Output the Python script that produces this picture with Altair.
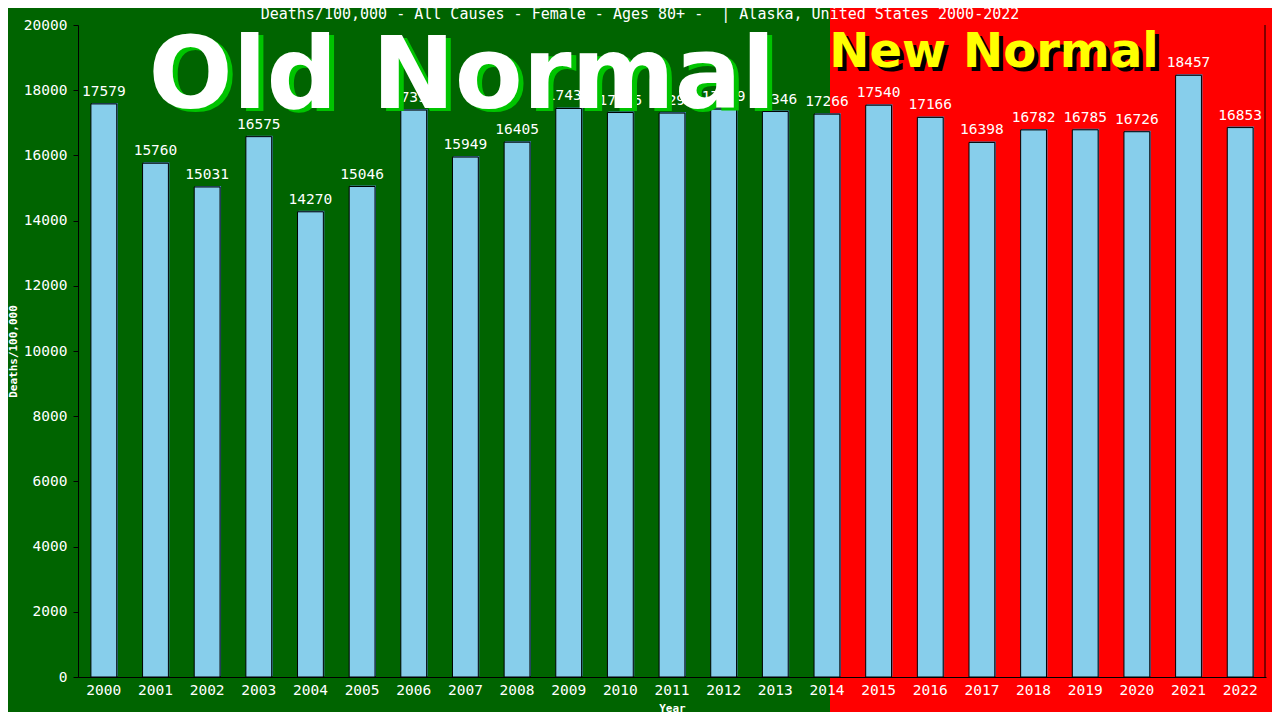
import altair as alt
import pandas as pd

years = [str(y) for y in range(2000, 2023)]
values = [17579, 15760, 15031, 16575, 14270, 15046, 17390, 15949, 16405, 17439,
          17315, 17298, 17419, 17346, 17266, 17540, 17166, 16398, 16782, 16785,
          16726, 18457, 16853]
y_ticks = list(range(0, 20001, 2000))
title_text = "Deaths/100,000 - All Causes - Female - Ages 80+ - \u00a0| Alaska, United States 2000-2022"
old_label = "Old Normal"
new_label = "New Normal"

df = pd.DataFrame({"Year": years, "Value": values})

W, H = 1188, 652
MONO = "DejaVu Sans Mono"
SANS = "DejaVu Sans"

xenc = alt.X("Year:N", sort=years,
             scale=alt.Scale(paddingInner=0.5, paddingOuter=0.25),
             axis=alt.Axis(title="Year", labelAngle=0, labelColor="white", labelFont=MONO,
                           labelFontSize=14.5, labelPadding=6, tickSize=0, domainColor="black",
                           titleColor="white", titleFont=MONO, titleFontSize=11, titleFontWeight="bold",
                           titleY=31, titleX=W / 2, titleBaseline="middle", grid=False, zindex=1))
yenc = alt.Y("Value:Q", scale=alt.Scale(domain=[0, 20000], nice=False),
             axis=alt.Axis(title="Deaths/100,000", values=y_ticks, format="d", labelColor="white",
                           labelFont=MONO, labelFontSize=14.5, labelPadding=6, tickSize=5,
                           tickColor="black", domainColor="black", grid=False, titleColor="white",
                           titleFont=MONO, titleFontSize=11, titleFontWeight="bold", titleAngle=-90,
                           titleX=-65, titleY=H / 2, titleAlign="center", titleBaseline="middle",
                           zindex=1))

one = pd.DataFrame({"t": [""]})

red_bg = alt.Chart(one).mark_rect(color="#ff0000").encode(
    x=alt.value(752), x2=alt.value(1260), y=alt.value(-40), y2=alt.value(720))

bars_shadow = alt.Chart(df).mark_bar(color="#4682b4", xOffset=1, yOffset=-1).encode(x=xenc, y=yenc)
bars = alt.Chart(df).mark_bar(color="#87ceeb", stroke="black", strokeWidth=1).encode(x=xenc, y=yenc)
labels = alt.Chart(df).mark_text(color="white", font=MONO, fontSize=14.5, baseline="bottom", dy=-5).encode(
    x=xenc, y=yenc, text=alt.Text("Value:Q", format="d"))

old_df = pd.DataFrame({"t": [old_label]})
new_df = pd.DataFrame({"t": [new_label]})
ttl_df = pd.DataFrame({"t": [title_text]})

old_shadow = alt.Chart(old_df).mark_text(color="#00c400", font=SANS, fontSize=99, fontWeight="bold",
                                         align="center", baseline="alphabetic").encode(
    x=alt.value(389), y=alt.value(86), text="t:N")
old_text = alt.Chart(old_df).mark_text(color="white", font=SANS, fontSize=99, fontWeight="bold",
                                       align="center", baseline="alphabetic").encode(
    x=alt.value(384), y=alt.value(83), text="t:N")
new_shadow = alt.Chart(new_df).mark_text(color="black", font=SANS, fontSize=48, fontWeight="bold",
                                         align="center", baseline="alphabetic").encode(
    x=alt.value(920), y=alt.value(46), text="t:N")
new_text = alt.Chart(new_df).mark_text(color="#ffff00", font=SANS, fontSize=48, fontWeight="bold",
                                       align="center", baseline="alphabetic").encode(
    x=alt.value(916), y=alt.value(42), text="t:N")
title = alt.Chart(ttl_df).mark_text(color="white", font=MONO, fontSize=15, align="center",
                                    baseline="middle").encode(
    x=alt.value(562), y=alt.value(-11), text="t:N")
right_rule = alt.Chart(one).mark_rule(color="black").encode(
    x=alt.value(W - 1), y=alt.value(0), y2=alt.value(H))

chart = alt.layer(red_bg, bars_shadow, bars, labels, old_shadow, old_text,
                  new_shadow, new_text, title, right_rule).properties(
    width=W, height=H,
    background="#006400",
    padding={"left": 70, "top": 17, "right": 6, "bottom": 35},
    autosize=alt.AutoSizeParams(type="none"),
).configure_view(stroke=None)

chart.save("out.html", embed_options={"renderer": "svg", "actions": False})
